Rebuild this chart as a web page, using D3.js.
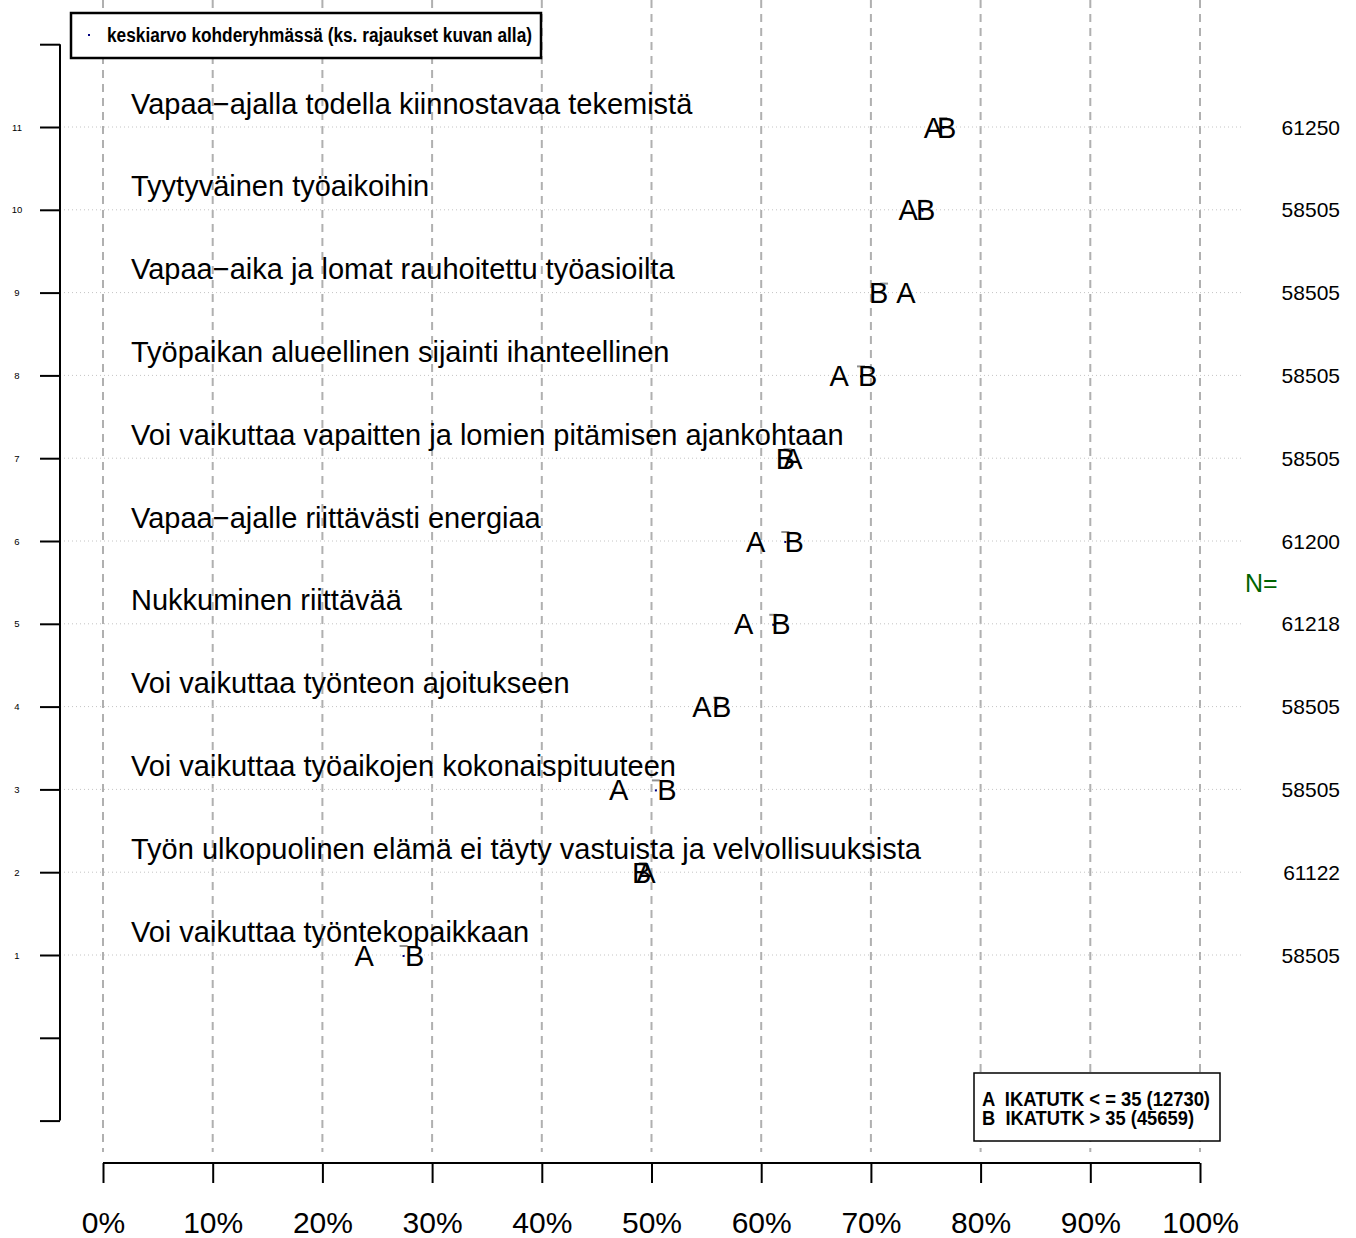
<!DOCTYPE html>
<html>
<head>
<meta charset="utf-8">
<script src="https://cdn.jsdelivr.net/npm/d3@7"></script>
<style>
  body { margin: 0; background: #fff; }
  text { font-family: "Liberation Sans", Arial, sans-serif; }
</style>
</head>
<body>
<div id="chart"></div>
<script>
// items from bottom (1) to top (11)
var categories = [
  "Voi vaikuttaa työntekopaikkaan",
  "Työn ulkopuolinen elämä ei täyty vastuista ja velvollisuuksista",
  "Voi vaikuttaa työaikojen kokonaispituuteen",
  "Voi vaikuttaa työnteon ajoitukseen",
  "Nukkuminen riittävää",
  "Vapaa\u2212ajalle riittävästi energiaa",
  "Voi vaikuttaa vapaitten ja lomien pitämisen ajankohtaan",
  "Työpaikan alueellinen sijainti ihanteellinen",
  "Vapaa\u2212aika ja lomat rauhoitettu työasioilta",
  "Tyytyväinen työaikoihin",
  "Vapaa\u2212ajalla todella kiinnostavaa tekemistä"
];
var nValues = [58505, 61122, 58505, 58505, 61218, 61200, 58505, 58505, 58505, 58505, 61250];
// percentages per group
var groupA = [23.8, 49.5, 47.0, 54.6, 58.4, 59.5, 62.9, 67.1, 73.2, 73.4, 75.7];
var groupB = [28.4, 49.1, 51.4, 56.4, 61.8, 63.0, 62.2, 69.7, 70.7, 75.0, 76.9];
var overall = [27.4, 49.2, 50.4, 56.0, 61.1, 62.2, 62.4, 69.1, 71.2, 74.7, 76.6];
var xTicks = [0, 10, 20, 30, 40, 50, 60, 70, 80, 90, 100];
var yTicks = [-1, 0, 1, 2, 3, 4, 5, 6, 7, 8, 9, 10, 11, 12];
var groupLegend = ["A  IKATUTK < = 35 (12730)", "B  IKATUTK > 35 (45659)"];

var W = 1356, H = 1238;
var svg = d3.select("#chart").append("svg")
  .attr("width", W).attr("height", H);

var x = d3.scaleLinear().domain([0, 100]).range([103, 1200]);
var y = d3.scaleLinear().domain([1, 11]).range([955, 127]);

// vertical dashed grid
svg.append("g").selectAll("line")
  .data(xTicks).enter().append("line")
    .attr("x1", function(d) { return x(d); })
    .attr("x2", function(d) { return x(d); })
    .attr("y1", 0).attr("y2", 1152)
    .style("stroke", "#b0b0b0")
    .style("stroke-width", 2)
    .style("stroke-dasharray", "8,6");

// horizontal dotted lines
svg.append("g").selectAll("line")
  .data(categories).enter().append("line")
    .attr("x1", 64).attr("x2", 1242)
    .attr("y1", function(d, i) { return y(i + 1); })
    .attr("y2", function(d, i) { return y(i + 1); })
    .style("stroke", "#c4c4c4")
    .style("stroke-width", 1)
    .style("stroke-dasharray", "1,3");

// y axis
var yAxis = svg.append("g")
  .attr("transform", "translate(60,0)")
  .call(d3.axisLeft(y).tickValues(yTicks).tickSize(20).tickPadding(0)
    .tickFormat(function(d) { return d >= 1 && d <= 11 ? d : ""; }));
yAxis.select(".domain").attr("d", "M0," + y(12) + "V" + y(-1))
  .style("stroke", "#000").style("stroke-width", 2);
yAxis.selectAll(".tick line").style("stroke-width", 2);
yAxis.selectAll(".tick text")
  .attr("x", -43).attr("dy", "0.32em")
  .style("font-size", "9.5px").style("font-family", "Liberation Sans, Arial")
  .style("fill", "#000")
  .attr("text-anchor", "middle");

// x axis
var xAxis = svg.append("g")
  .attr("transform", "translate(0,1163)")
  .call(d3.axisBottom(x).tickValues(xTicks).tickSize(20).tickPadding(0)
    .tickFormat(function(d) { return d + "%"; }));
xAxis.select(".domain").attr("d", "M" + x(0) + ",0H" + x(100))
  .style("stroke-width", 2);
xAxis.selectAll(".tick line").style("stroke-width", 2);
xAxis.selectAll(".tick text")
  .attr("y", 70).attr("dy", 0)
  .style("font-size", "30px").style("font-family", "Liberation Sans, Arial")
  .style("fill", "#000");

// category labels
svg.append("g").selectAll("text")
  .data(categories).enter().append("text")
    .attr("x", 131)
    .attr("y", function(d, i) { return y(i + 1) - 13.5; })
    .style("font-size", "29px")
    .text(function(d) { return d; });

// overall mean markers
var marks = svg.append("g");
marks.selectAll("line")
  .data(overall).enter().append("line")
    .attr("x1", function(d) { return x(d) - 4; })
    .attr("x2", function(d) { return x(d) + 4; })
    .attr("y1", function(d, i) { return y(i + 1) - 9; })
    .attr("y2", function(d, i) { return y(i + 1) - 9; })
    .style("stroke", "#909090")
    .style("stroke-width", 2);
marks.selectAll("rect")
  .data(overall).enter().append("rect")
    .attr("x", function(d) { return x(d) - 1; })
    .attr("y", function(d, i) { return y(i + 1); })
    .attr("width", 2).attr("height", 2)
    .style("fill", "#000080");

// group letters
function letters(vals, lab) {
  svg.append("g").selectAll("text")
    .data(vals).enter().append("text")
      .attr("x", function(d) { return x(d); })
      .attr("y", function(d, i) { return y(i + 1) + 10.5; })
      .attr("text-anchor", "middle")
      .style("font-size", "29px")
      .text(lab);
}
letters(groupA, "A");
letters(groupB, "B");

// N column
svg.append("g").selectAll("text")
  .data(nValues).enter().append("text")
    .attr("x", 1340)
    .attr("y", function(d, i) { return y(i + 1) + 7.5; })
    .attr("text-anchor", "end")
    .style("font-size", "21px")
    .text(function(d) { return d; });
svg.append("text")
  .attr("x", 1245).attr("y", 592)
  .style("font-size", "25px")
  .style("fill", "#006400")
  .text("N=");

// top legend
svg.append("rect")
  .attr("x", 71).attr("y", 13).attr("width", 470).attr("height", 45)
  .style("fill", "#fff").style("stroke", "#000").style("stroke-width", 2.5);
svg.append("rect")
  .attr("x", 88).attr("y", 34).attr("width", 2).attr("height", 2)
  .style("fill", "#000080");
svg.append("text")
  .attr("x", 107).attr("y", 42)
  .attr("textLength", 425).attr("lengthAdjust", "spacingAndGlyphs")
  .style("font-size", "20px").style("font-weight", "bold")
  .text("keskiarvo kohderyhmässä (ks. rajaukset kuvan alla)");

// group legend
svg.append("rect")
  .attr("x", 974).attr("y", 1073).attr("width", 246).attr("height", 68)
  .style("fill", "#fff").style("stroke", "#000").style("stroke-width", 1.5);
svg.append("g").selectAll("text")
  .data(groupLegend).enter().append("text")
    .attr("x", 982)
    .attr("y", function(d, i) { return 1106 + i * 19; })
    .attr("textLength", function(d, i) { return i == 0 ? 228 : 212; })
    .attr("lengthAdjust", "spacingAndGlyphs")
    .style("white-space", "pre")
    .style("font-size", "20px").style("font-weight", "bold")
    .text(function(d) { return d; });
</script>
</body>
</html>
